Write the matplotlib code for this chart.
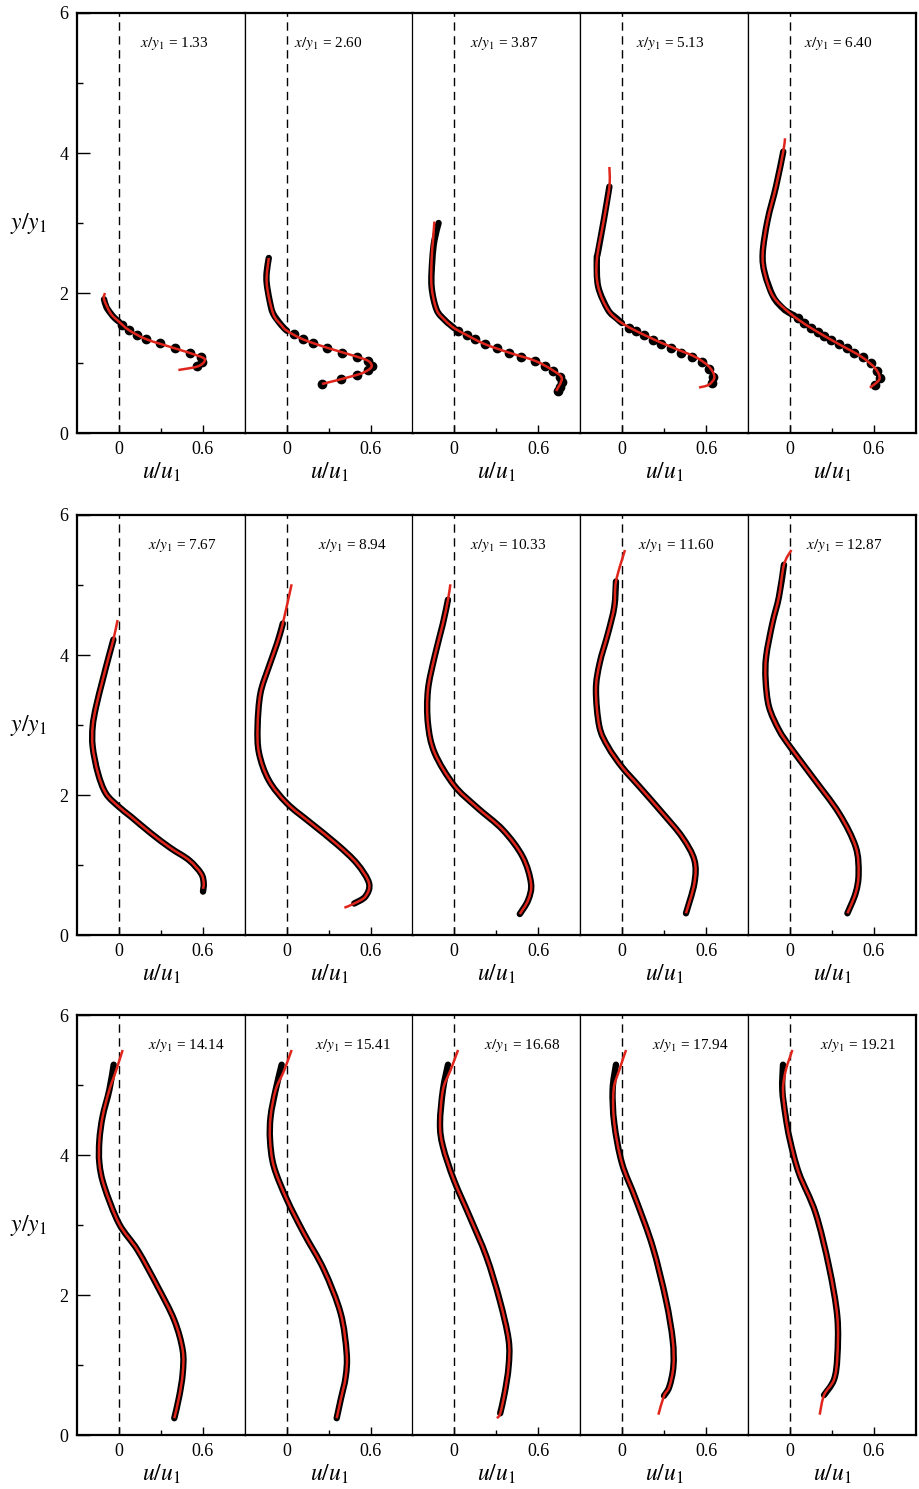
import matplotlib
matplotlib.use('Agg')
import matplotlib.pyplot as plt
from matplotlib.path import Path
from matplotlib.patches import PathPatch
import numpy as np

plt.rcParams['font.family'] = 'serif'
plt.rcParams['font.serif'] = ['Liberation Serif', 'DejaVu Serif']
plt.rcParams['mathtext.fontset'] = 'stix'

# streamwise stations x/y1
stations = ['1.33', '2.60', '3.87', '5.13', '6.40',
            '7.67', '8.94', '10.33', '11.60', '12.87',
            '14.14', '15.41', '16.68', '17.94', '19.21']

# measured profiles (u/u1, y/y1): dense part drawn as a band, sparse part as single dots
band_1 = [(-0.107, 1.91), (-0.09, 1.80), (-0.06, 1.71), (-0.03, 1.64), (0.0, 1.59)]
dots_1 = [(0.024, 1.54), (0.071, 1.47), (0.131, 1.40), (0.195, 1.34), (0.293, 1.28),
          (0.398, 1.21), (0.505, 1.15), (0.583, 1.09), (0.595, 1.02), (0.56, 0.96)]
fit_1 = [(-0.10, 2.00), (-0.107, 1.91), (-0.06, 1.71), (0.0, 1.59), (0.071, 1.47),
         (0.195, 1.34), (0.398, 1.21), (0.583, 1.09), (0.612, 1.03), (0.56, 0.95), (0.424, 0.90)]

band_2 = [(-0.13, 2.50), (-0.145, 2.30), (-0.145, 2.14), (-0.125, 1.90), (-0.10, 1.71),
          (-0.04, 1.54), (0.0, 1.46)]
dots_2 = [(0.052, 1.41), (0.112, 1.34), (0.188, 1.28), (0.283, 1.22), (0.393, 1.15),
          (0.50, 1.09), (0.576, 1.03), (0.605, 0.96), (0.576, 0.90), (0.50, 0.83),
          (0.386, 0.77), (0.25, 0.70)]
fit_2 = [(-0.13, 2.50), (-0.145, 2.14), (-0.10, 1.71), (-0.04, 1.54), (0.0, 1.46),
         (0.112, 1.34), (0.283, 1.22), (0.50, 1.09), (0.58, 1.03), (0.605, 0.96),
         (0.58, 0.90), (0.50, 0.83), (0.25, 0.70)]

band_3 = [(-0.11, 3.00), (-0.14, 2.75), (-0.155, 2.47), (-0.16, 2.09), (-0.124, 1.76),
          (-0.064, 1.61), (-0.03, 1.55), (0.0, 1.50)]
dots_3 = [(0.03, 1.46), (0.09, 1.40), (0.15, 1.34), (0.22, 1.27), (0.305, 1.21),
          (0.39, 1.15), (0.48, 1.09), (0.58, 1.03), (0.65, 0.96), (0.71, 0.89),
          (0.757, 0.80), (0.774, 0.73), (0.757, 0.66), (0.745, 0.60)]
fit_3 = [(-0.14, 3.02), (-0.15, 2.75), (-0.16, 2.47), (-0.16, 2.09), (-0.124, 1.76),
         (-0.064, 1.61), (0.0, 1.50), (0.09, 1.40), (0.22, 1.27), (0.39, 1.15),
         (0.58, 1.03), (0.71, 0.89), (0.77, 0.78), (0.73, 0.60)]

band_4 = [(-0.09, 3.52), (-0.13, 3.04), (-0.17, 2.60), (-0.18, 2.47), (-0.17, 2.09),
          (-0.10, 1.76), (-0.04, 1.64), (0.0, 1.57)]
dots_4 = [(0.05, 1.50), (0.10, 1.45), (0.16, 1.40), (0.22, 1.33), (0.28, 1.27),
          (0.35, 1.21), (0.42, 1.15), (0.50, 1.09), (0.57, 1.02), (0.62, 0.92),
          (0.65, 0.80), (0.64, 0.71)]
fit_4 = [(-0.09, 3.80), (-0.09, 3.52), (-0.13, 3.04), (-0.18, 2.47), (-0.17, 2.09),
         (-0.10, 1.76), (0.0, 1.57), (0.16, 1.40), (0.35, 1.23), (0.52, 1.09),
         (0.62, 0.95), (0.66, 0.80), (0.62, 0.69), (0.55, 0.65)]

band_5 = [(-0.048, 4.02), (-0.10, 3.52), (-0.16, 3.04), (-0.195, 2.57), (-0.18, 2.28),
          (-0.12, 1.95), (-0.05, 1.78), (0.0, 1.71), (0.03, 1.68)]
dots_5 = [(0.055, 1.64), (0.10, 1.57), (0.15, 1.50), (0.20, 1.44), (0.245, 1.39),
          (0.29, 1.33), (0.35, 1.27), (0.41, 1.21), (0.46, 1.15), (0.52, 1.08),
          (0.58, 1.00), (0.62, 0.89), (0.64, 0.78), (0.61, 0.69)]
fit_5 = [(-0.036, 4.21), (-0.048, 4.02), (-0.10, 3.52), (-0.16, 3.04), (-0.195, 2.57),
         (-0.18, 2.28), (-0.12, 1.95), (0.0, 1.71), (0.15, 1.50), (0.34, 1.28),
         (0.51, 1.09), (0.61, 0.92), (0.64, 0.78), (0.60, 0.69), (0.57, 0.65)]

band_6 = [(-0.04, 4.22), (-0.07, 4.00), (-0.117, 3.64), (-0.164, 3.26), (-0.188, 2.98),
          (-0.188, 2.69), (-0.15, 2.31), (-0.093, 2.02), (0.0, 1.83), (0.086, 1.69),
          (0.23, 1.45), (0.37, 1.24), (0.50, 1.07), (0.586, 0.88), (0.605, 0.74), (0.60, 0.62)]
fit_6 = [(-0.01, 4.50), (-0.04, 4.22), (-0.07, 4.00), (-0.117, 3.64), (-0.164, 3.26),
         (-0.188, 2.98), (-0.188, 2.69), (-0.15, 2.31), (-0.093, 2.02), (0.0, 1.83),
         (0.086, 1.69), (0.23, 1.45), (0.37, 1.24), (0.50, 1.07), (0.586, 0.88),
         (0.605, 0.74), (0.60, 0.66)]

band_7 = [(-0.03, 4.45), (-0.07, 4.17), (-0.13, 3.83), (-0.19, 3.45), (-0.21, 2.98),
          (-0.20, 2.60), (-0.13, 2.21), (0.0, 1.88), (0.17, 1.60), (0.36, 1.29),
          (0.50, 1.02), (0.586, 0.74), (0.56, 0.55), (0.48, 0.45)]
fit_7 = [(0.033, 5.01), (-0.03, 4.45), (-0.07, 4.17), (-0.13, 3.83), (-0.19, 3.45),
         (-0.21, 2.98), (-0.20, 2.60), (-0.13, 2.21), (0.0, 1.88), (0.17, 1.60),
         (0.36, 1.29), (0.50, 1.02), (0.586, 0.74), (0.56, 0.55), (0.48, 0.45), (0.41, 0.39)]

band_8 = [(-0.043, 4.79), (-0.079, 4.45), (-0.138, 3.98), (-0.186, 3.50), (-0.186, 3.02),
          (-0.138, 2.60), (0.0, 2.14), (0.16, 1.83), (0.35, 1.50), (0.49, 1.12),
          (0.55, 0.74), (0.53, 0.50), (0.47, 0.30)]
fit_8 = [(-0.026, 5.01), (-0.043, 4.79), (-0.079, 4.45), (-0.138, 3.98), (-0.186, 3.50),
         (-0.186, 3.02), (-0.138, 2.60), (0.0, 2.14), (0.16, 1.83), (0.35, 1.50),
         (0.49, 1.12), (0.55, 0.74), (0.53, 0.50), (0.47, 0.30)]

band_9 = [(-0.043, 5.05), (-0.055, 4.69), (-0.10, 4.31), (-0.16, 3.88), (-0.186, 3.50),
          (-0.162, 2.98), (-0.10, 2.69), (0.0, 2.40), (0.124, 2.12), (0.29, 1.74),
          (0.43, 1.40), (0.517, 1.07), (0.517, 0.74), (0.457, 0.31)]
fit_9 = [(0.021, 5.50), (-0.043, 5.05), (-0.055, 4.69), (-0.10, 4.31), (-0.16, 3.88),
         (-0.186, 3.50), (-0.162, 2.98), (-0.10, 2.69), (0.0, 2.40), (0.124, 2.12),
         (0.29, 1.74), (0.43, 1.40), (0.517, 1.07), (0.517, 0.74), (0.457, 0.31)]

band_10 = [(-0.043, 5.29), (-0.079, 4.83), (-0.126, 4.45), (-0.17, 3.98), (-0.174, 3.64),
           (-0.15, 3.26), (-0.079, 2.93), (0.0, 2.69), (0.16, 2.26), (0.35, 1.74),
           (0.469, 1.26), (0.49, 0.88), (0.469, 0.60), (0.41, 0.31)]
fit_10 = [(0.01, 5.50), (-0.043, 5.29), (-0.079, 4.83), (-0.126, 4.45), (-0.17, 3.98),
          (-0.174, 3.64), (-0.15, 3.26), (-0.079, 2.93), (0.0, 2.69), (0.16, 2.26),
          (0.35, 1.74), (0.469, 1.26), (0.49, 0.88), (0.469, 0.60), (0.41, 0.31)]

band_11 = [(-0.038, 5.29), (-0.069, 4.93), (-0.117, 4.55), (-0.14, 4.21), (-0.14, 3.88),
           (-0.105, 3.55), (0.0, 3.02), (0.133, 2.64), (0.276, 2.12), (0.395, 1.64),
           (0.455, 1.21), (0.455, 0.88), (0.43, 0.55), (0.395, 0.24)]
fit_11 = [(0.026, 5.50), (-0.02, 5.21), (-0.069, 4.93), (-0.117, 4.55), (-0.14, 4.21),
          (-0.14, 3.88), (-0.105, 3.55), (0.0, 3.02), (0.133, 2.64), (0.276, 2.12),
          (0.395, 1.64), (0.455, 1.21), (0.455, 0.88), (0.43, 0.55), (0.395, 0.24)]

band_12 = [(-0.038, 5.29), (-0.081, 4.93), (-0.117, 4.55), (-0.121, 4.21), (-0.093, 3.83),
           (0.0, 3.36), (0.121, 2.88), (0.264, 2.36), (0.383, 1.74), (0.426, 1.17),
           (0.419, 0.83), (0.383, 0.50), (0.355, 0.24)]
fit_12 = [(0.033, 5.50), (-0.02, 5.21), (-0.081, 4.93), (-0.117, 4.55), (-0.121, 4.21),
          (-0.093, 3.83), (0.0, 3.36), (0.121, 2.88), (0.264, 2.36), (0.383, 1.74),
          (0.426, 1.17), (0.419, 0.83), (0.383, 0.50), (0.355, 0.24)]

band_13 = [(-0.043, 5.29), (-0.079, 4.93), (-0.10, 4.45), (-0.079, 4.12), (0.0, 3.64),
           (0.112, 3.12), (0.231, 2.55), (0.326, 1.93), (0.39, 1.36), (0.39, 0.98),
           (0.362, 0.60), (0.33, 0.31)]
fit_13 = [(0.029, 5.50), (-0.025, 5.21), (-0.079, 4.93), (-0.10, 4.45), (-0.079, 4.12),
          (0.0, 3.64), (0.112, 3.12), (0.231, 2.55), (0.326, 1.93), (0.39, 1.36),
          (0.39, 0.98), (0.362, 0.60), (0.33, 0.31), (0.307, 0.24)]

band_14 = [(-0.043, 5.29), (-0.067, 4.93), (-0.055, 4.45), (0.0, 3.88), (0.10, 3.36),
           (0.219, 2.69), (0.314, 1.93), (0.362, 1.36), (0.367, 0.98), (0.338, 0.69),
           (0.30, 0.56)]
fit_14 = [(0.029, 5.50), (-0.02, 5.21), (-0.06, 4.93), (-0.055, 4.45), (0.0, 3.88),
          (0.10, 3.36), (0.219, 2.69), (0.314, 1.93), (0.362, 1.36), (0.367, 0.98),
          (0.338, 0.69), (0.30, 0.56), (0.26, 0.29)]

band_15 = [(-0.05, 5.29), (-0.055, 4.93), (-0.031, 4.55), (0.0, 4.21), (0.064, 3.74),
           (0.183, 3.17), (0.279, 2.40), (0.338, 1.69), (0.338, 1.12), (0.314, 0.79),
           (0.243, 0.57)]
fit_15 = [(0.017, 5.50), (-0.03, 5.21), (-0.05, 4.93), (-0.031, 4.55), (0.0, 4.21),
          (0.064, 3.74), (0.183, 3.17), (0.279, 2.40), (0.338, 1.69), (0.338, 1.12),
          (0.314, 0.79), (0.243, 0.57), (0.212, 0.29)]

bands = [band_1, band_2, band_3, band_4, band_5, band_6, band_7, band_8,
         band_9, band_10, band_11, band_12, band_13, band_14, band_15]
dots = [dots_1, dots_2, dots_3, dots_4, dots_5] + [[]] * 10
fits = [fit_1, fit_2, fit_3, fit_4, fit_5, fit_6, fit_7, fit_8,
        fit_9, fit_10, fit_11, fit_12, fit_13, fit_14, fit_15]

# label offsets from panel left edge, pixels
label_left = [63, 49, 58, 56, 56, 71, 73, 58, 58, 58, 71, 70, 72, 72, 72]


def smooth_path(pts):
    # Catmull-Rom through the read points, drawn as cubic Bezier pieces
    p = np.asarray(pts, dtype=float)
    verts = [p[0]]
    codes = [Path.MOVETO]
    for i in range(len(p) - 1):
        p0 = p[i - 1] if i > 0 else p[i]
        p3 = p[i + 2] if i + 2 < len(p) else p[i + 1]
        verts += [p[i] + (p[i + 1] - p0) / 6, p[i + 1] - (p3 - p[i]) / 6, p[i + 1]]
        codes += [Path.CURVE4] * 3
    return Path(verts, codes)


W, H = 920, 1489
fig = plt.figure(figsize=(W / 100, H / 100), dpi=100)

col_left = [77, 245, 412, 580, 748]
col_w = 168
row_bottom = [433, 935, 1435]
row_h = 420
red = '#e0261c'

for k in range(15):
    r, c = divmod(k, 5)
    ax = fig.add_axes([col_left[c] / W, 1 - row_bottom[r] / H, col_w / W, row_h / H])
    ax.set_xlim(-0.3, 0.9)
    ax.set_ylim(0, 6)

    ax.axvline(0, color='black', lw=1.0, ls=(0, (6, 4)), zorder=1)

    ax.add_patch(PathPatch(smooth_path(bands[k]), facecolor='none', edgecolor='black',
                           lw=4.6, capstyle='round', joinstyle='round', zorder=2))
    if dots[k]:
        d = np.array(dots[k])
        ax.plot(d[:, 0], d[:, 1], 'o', color='black', ms=6, zorder=2)
    ax.add_patch(PathPatch(smooth_path(fits[k]), facecolor='none', edgecolor=red,
                           lw=1.8, capstyle='butt', zorder=3))

    ax.text(label_left[k] / col_w, 5.57, r'$x/y_\mathit{1}$ = ' + stations[k],
            transform=ax.get_yaxis_transform(), fontsize=11, va='center', ha='left')

    ax.set_xticks([0, 0.6])
    ax.set_xticklabels(['0', '0.6'])
    ax.set_xticks([0.3], minor=True)
    ax.tick_params(axis='x', which='major', direction='in', length=6, width=1,
                   labelsize=13, pad=6, top=False)
    ax.tick_params(axis='x', which='minor', direction='in', length=3.5, width=1, top=False)
    ax.set_xlabel(r'$u/u_\mathit{1}$', fontsize=17, labelpad=2)

    if c == 0:
        ax.set_yticks([0, 2, 4, 6])
        ax.set_yticklabels(['0', '2', '4', '6'])
        ax.set_yticks([1, 3, 5], minor=True)
        ax.tick_params(axis='y', which='major', direction='in', length=9, width=1,
                       labelsize=13, pad=6, right=False)
        ax.tick_params(axis='y', which='minor', direction='in', length=4.5, width=1,
                       right=False)
        ax.text(-0.29, 3.0, r'$y/y_\mathit{1}$', transform=ax.get_yaxis_transform(),
                fontsize=17, ha='center', va='center', clip_on=False)
    else:
        ax.set_yticks([])

    for side in ['top', 'bottom']:
        ax.spines[side].set_linewidth(1.6)
    ax.spines['left'].set_linewidth(1.6 if c == 0 else 0.9)
    ax.spines['right'].set_linewidth(1.6 if c == 4 else 0.9)

fig.savefig('out.png', dpi=100)
